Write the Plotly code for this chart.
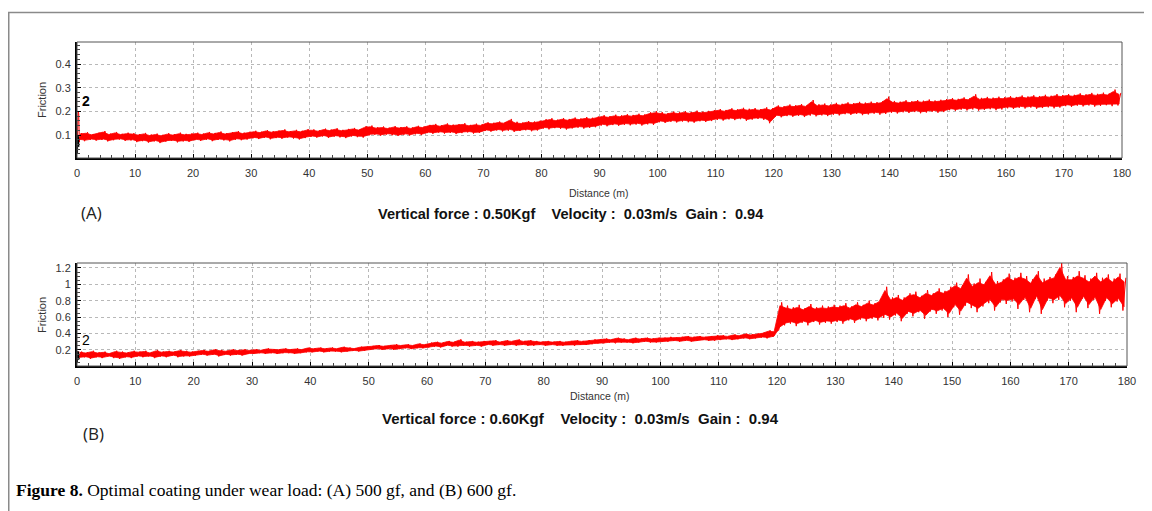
import plotly.graph_objects as go

# ---------------- data ----------------
# distance bins in metres (each bin i spans [i, i+1])
bins_m = list(range(180))

# Panel A (500 gf): per-metre lower / upper envelope of friction
a_low = [
    0.078, 0.074, 0.080, 0.076, 0.079, 0.073, 0.078, 0.081, 0.075, 0.077,
    0.070, 0.074, 0.068, 0.073, 0.066, 0.072, 0.075, 0.069, 0.073, 0.071,
    0.078, 0.075, 0.080, 0.074, 0.079, 0.077, 0.073, 0.080, 0.078, 0.081,
    0.086, 0.083, 0.088, 0.082, 0.087, 0.084, 0.089, 0.085, 0.081, 0.087,
    0.092, 0.089, 0.094, 0.088, 0.093, 0.090, 0.087, 0.094, 0.091, 0.089,
    0.098, 0.101, 0.097, 0.102, 0.099, 0.096, 0.101, 0.098, 0.103, 0.100,
    0.108, 0.105, 0.110, 0.106, 0.109, 0.104, 0.108, 0.111, 0.106, 0.109,
    0.117, 0.114, 0.119, 0.115, 0.118, 0.113, 0.117, 0.120, 0.116, 0.119,
    0.127, 0.124, 0.129, 0.126, 0.123, 0.128, 0.131, 0.127, 0.130, 0.133,
    0.140, 0.137, 0.142, 0.139, 0.143, 0.141, 0.144, 0.140, 0.145, 0.143,
    0.154, 0.151, 0.156, 0.153, 0.157, 0.154, 0.152, 0.158, 0.155, 0.159,
    0.164, 0.161, 0.166, 0.163, 0.167, 0.160, 0.165, 0.168, 0.164, 0.150,
    0.178, 0.175, 0.180, 0.177, 0.181, 0.176, 0.182, 0.179, 0.183, 0.180,
    0.186, 0.183, 0.188, 0.185, 0.189, 0.184, 0.187, 0.190, 0.186, 0.189,
    0.194, 0.191, 0.196, 0.193, 0.197, 0.192, 0.195, 0.198, 0.194, 0.197,
    0.205, 0.202, 0.207, 0.204, 0.208, 0.203, 0.206, 0.209, 0.205, 0.208,
    0.213, 0.210, 0.215, 0.212, 0.216, 0.211, 0.214, 0.217, 0.213, 0.216,
    0.222, 0.219, 0.224, 0.221, 0.225, 0.220, 0.223, 0.226, 0.222, 0.225,
]
a_high = [
    0.108, 0.112, 0.104, 0.110, 0.117, 0.106, 0.113, 0.105, 0.110, 0.108,
    0.104, 0.109, 0.102, 0.106, 0.101, 0.108, 0.103, 0.110, 0.105, 0.107,
    0.110, 0.106, 0.113, 0.109, 0.115, 0.108, 0.112, 0.117, 0.110, 0.114,
    0.118, 0.114, 0.121, 0.116, 0.119, 0.124, 0.117, 0.122, 0.118, 0.125,
    0.124, 0.120, 0.127, 0.123, 0.129, 0.122, 0.126, 0.130, 0.125, 0.138,
    0.140, 0.133, 0.136, 0.131, 0.138, 0.134, 0.137, 0.132, 0.139, 0.136,
    0.143, 0.147, 0.141, 0.149, 0.144, 0.146, 0.150, 0.143, 0.148, 0.145,
    0.154, 0.152, 0.157, 0.155, 0.168, 0.156, 0.153, 0.159, 0.157, 0.161,
    0.167, 0.171, 0.165, 0.172, 0.168, 0.174, 0.170, 0.176, 0.173, 0.178,
    0.184, 0.180, 0.186, 0.183, 0.188, 0.185, 0.190, 0.187, 0.196, 0.201,
    0.197, 0.193, 0.199, 0.196, 0.201, 0.197, 0.203, 0.199, 0.202, 0.205,
    0.210, 0.206, 0.213, 0.209, 0.215, 0.211, 0.214, 0.210, 0.217, 0.213,
    0.225, 0.222, 0.229, 0.226, 0.231, 0.227, 0.248, 0.230, 0.233, 0.229,
    0.236, 0.232, 0.238, 0.235, 0.240, 0.237, 0.241, 0.239, 0.243, 0.262,
    0.244, 0.241, 0.247, 0.243, 0.248, 0.245, 0.250, 0.246, 0.249, 0.252,
    0.256, 0.253, 0.259, 0.255, 0.272, 0.257, 0.261, 0.258, 0.262, 0.260,
    0.264, 0.261, 0.267, 0.263, 0.268, 0.265, 0.270, 0.266, 0.273, 0.269,
    0.273, 0.270, 0.276, 0.272, 0.278, 0.274, 0.279, 0.275, 0.292, 0.278,
]
# Panel A start-up transient (first metre)
a_start_x = [0.0, 0.1, 0.2, 0.3, 0.4, 0.5]
a_start_y = [0.03, 0.12, 0.20, 0.19, 0.07, 0.09]
a_black_x = [0.0, 0.06, 0.12, 0.18, 0.24]
a_black_y = [0.02, 0.10, 0.03, 0.09, 0.05]

# Panel B (600 gf)
b_low = [
    0.10, 0.11, 0.09, 0.11, 0.10, 0.12, 0.10, 0.09, 0.11, 0.10,
    0.12, 0.11, 0.12, 0.10, 0.12, 0.11, 0.13, 0.11, 0.12, 0.12,
    0.13, 0.14, 0.13, 0.14, 0.12, 0.14, 0.13, 0.14, 0.13, 0.15,
    0.15, 0.16, 0.15, 0.16, 0.15, 0.16, 0.16, 0.15, 0.16, 0.17,
    0.17, 0.18, 0.17, 0.18, 0.18, 0.17, 0.18, 0.19, 0.18, 0.19,
    0.20, 0.21, 0.20, 0.21, 0.20, 0.21, 0.22, 0.21, 0.22, 0.22,
    0.23, 0.24, 0.23, 0.25, 0.24, 0.24, 0.25, 0.24, 0.25, 0.24,
    0.26, 0.25, 0.26, 0.25, 0.26, 0.25, 0.26, 0.25, 0.25, 0.26,
    0.25, 0.26, 0.25, 0.25, 0.26, 0.25, 0.26, 0.26, 0.27, 0.28,
    0.28, 0.29, 0.28, 0.29, 0.29, 0.28, 0.29, 0.30, 0.29, 0.29,
    0.30, 0.30, 0.31, 0.30, 0.31, 0.30, 0.31, 0.32, 0.31, 0.31,
    0.32, 0.33, 0.32, 0.33, 0.34, 0.33, 0.34, 0.35, 0.34, 0.36,
    0.44, 0.50, 0.52, 0.49, 0.53, 0.50, 0.54, 0.51, 0.53, 0.52,
    0.54, 0.52, 0.56, 0.53, 0.57, 0.55, 0.58, 0.56, 0.59, 0.57,
    0.62, 0.55, 0.64, 0.61, 0.66, 0.58, 0.67, 0.64, 0.68, 0.60,
    0.72, 0.63, 0.74, 0.71, 0.66, 0.73, 0.77, 0.68, 0.78, 0.76,
    0.79, 0.70, 0.81, 0.66, 0.82, 0.64, 0.80, 0.77, 0.81, 0.72,
    0.80, 0.66, 0.82, 0.71, 0.81, 0.64, 0.80, 0.72, 0.79, 0.68,
]
b_high = [
    0.18, 0.17, 0.19, 0.17, 0.18, 0.16, 0.19, 0.18, 0.17, 0.19,
    0.18, 0.19, 0.17, 0.20, 0.18, 0.19, 0.18, 0.20, 0.19, 0.18,
    0.19, 0.20, 0.19, 0.21, 0.20, 0.19, 0.21, 0.20, 0.21, 0.20,
    0.21, 0.20, 0.22, 0.21, 0.21, 0.22, 0.21, 0.22, 0.21, 0.23,
    0.22, 0.23, 0.22, 0.23, 0.22, 0.24, 0.23, 0.22, 0.24, 0.24,
    0.25, 0.26, 0.25, 0.26, 0.27, 0.26, 0.27, 0.26, 0.28, 0.27,
    0.29, 0.30, 0.29, 0.31, 0.30, 0.33, 0.30, 0.31, 0.30, 0.31,
    0.31, 0.32, 0.30, 0.32, 0.31, 0.33, 0.31, 0.32, 0.31, 0.30,
    0.31, 0.30, 0.31, 0.30, 0.31, 0.32, 0.31, 0.32, 0.33, 0.33,
    0.34, 0.33, 0.35, 0.34, 0.33, 0.35, 0.34, 0.35, 0.34, 0.35,
    0.35, 0.36, 0.35, 0.36, 0.37, 0.36, 0.37, 0.36, 0.37, 0.38,
    0.38, 0.37, 0.39, 0.38, 0.40, 0.39, 0.40, 0.41, 0.44, 0.43,
    0.78, 0.74, 0.72, 0.75, 0.71, 0.76, 0.72, 0.74, 0.73, 0.75,
    0.74, 0.77, 0.73, 0.78, 0.75, 0.80, 0.77, 0.82, 0.97, 0.84,
    0.87, 0.84, 0.89, 0.91, 0.86, 0.93, 0.89, 0.95, 0.92, 0.97,
    1.02, 0.99, 1.12, 1.01, 1.07, 1.03, 1.15, 1.04, 1.06, 1.13,
    1.08, 1.14, 1.10, 1.06, 1.16, 1.07, 1.09, 1.12, 1.26, 1.10,
    1.09, 1.16, 1.11, 1.07, 1.14, 1.08, 1.12, 1.07, 1.13, 1.08,
]
b_start_x = [0.0, 0.1, 0.2, 0.3, 0.4, 0.5]
b_start_y = [0.08, 0.17, 0.10, 0.18, 0.11, 0.13]
b_black_x = [0.0, 0.06, 0.12, 0.18, 0.24]
b_black_y = [0.05, 0.18, 0.07, 0.17, 0.08]

x_ticks = [0, 10, 20, 30, 40, 50, 60, 70, 80, 90, 100, 110, 120, 130, 140, 150, 160, 170, 180]
a_yticks = [0.1, 0.2, 0.3, 0.4]
a_yticklabels = ["0.1", "0.2", "0.3", "0.4"]
b_yticks = [0.2, 0.4, 0.6, 0.8, 1.0, 1.2]
b_yticklabels = ["0.2", "0.4", "0.6", "0.8", "1", "1.2"]

# ---------------- layout helpers ----------------
W, H = 1152, 511
OFF = 8  # page body margin of the html page
def px(x):
    return (x - OFF) / W
def py(y):
    return 1 - (y - OFF) / H

RED = "#ff0000"
SANS = "Liberation Sans, Arial, sans-serif"
TICKFONT = dict(family=SANS, size=11, color="#333333")
CORE = 0.12  # share of each envelope drawn as needles rather than solid band

fig = go.Figure()

def add_panel(low, high, sx, sy, bx, by, xa, ya):
    # solid core of the noisy signal
    top = [h - CORE * (h - l) for l, h in zip(low, high)]
    bot = [l + CORE * (h - l) for l, h in zip(low, high)]
    fx = [i + 0.5 for i in bins_m] + [i + 0.5 for i in reversed(bins_m)]
    fy = top + list(reversed(bot))
    fig.add_trace(go.Scatter(x=fx, y=fy, fill="toself", fillcolor=RED, mode="lines",
                             line=dict(width=0.8, color=RED), xaxis=xa, yaxis=ya,
                             hoverinfo="skip", showlegend=False))
    # needles: zig-zag through the per-metre low/high readings
    zx, zy = [], []
    for i, lo, hi in zip(bins_m, low, high):
        zx += [i + 0.3, i + 0.8]
        zy += [lo, hi]
    fig.add_trace(go.Scatter(x=list(sx) + zx, y=list(sy) + zy, mode="lines",
                             line=dict(width=1, color=RED), xaxis=xa, yaxis=ya,
                             showlegend=False))
    fig.add_trace(go.Scatter(x=bx, y=by, mode="lines", line=dict(width=2, color="black"),
                             xaxis=xa, yaxis=ya, showlegend=False))

add_panel(a_low, a_high, a_start_x, a_start_y, a_black_x, a_black_y, "x", "y")
add_panel(b_low, b_high, b_start_x, b_start_y, b_black_x, b_black_y, "x2", "y2")

common_x = dict(
    range=[0, 180], tickvals=x_ticks, ticktext=[str(v) for v in x_ticks],
    showgrid=True, gridcolor="#b8b8b8", griddash="3px,3px", gridwidth=1,
    showline=True, linecolor="black", linewidth=2,
    ticks="inside", ticklen=4, tickcolor="black", tickwidth=1,
    minor=dict(dtick=2, ticks="inside", ticklen=3, tickcolor="#444", showgrid=False),
    tickfont=TICKFONT, ticklabelstandoff=4, zeroline=False, fixedrange=True,
    automargin=False,
)
common_y = dict(
    showgrid=True, gridcolor="#b8b8b8", griddash="3px,3px", gridwidth=1,
    showline=True, linecolor="black", linewidth=2,
    ticks="inside", ticklen=4, tickcolor="black", tickwidth=1,
    tickfont=TICKFONT, ticklabelstandoff=2, zeroline=False, fixedrange=True,
    automargin=False,
)

fig.update_layout(
    template="none",
    width=W, height=H, margin=dict(l=0, r=0, t=0, b=0, pad=0, autoexpand=False),
    paper_bgcolor="white", plot_bgcolor="white", showlegend=False,
    xaxis=dict(common_x, domain=[px(77), px(1122)], anchor="y"),
    yaxis=dict(common_y, domain=[py(158), py(42)], anchor="x", range=[0.003, 0.493],
               tickvals=a_yticks, ticktext=a_yticklabels,
               minor=dict(dtick=0.02, ticks="inside", ticklen=3, tickcolor="#444", showgrid=False)),
    xaxis2=dict(common_x, domain=[px(77), px(1127)], anchor="y2"),
    yaxis2=dict(common_y, domain=[py(366), py(263)], anchor="x2", range=[0.004, 1.26],
                tickvals=b_yticks, ticktext=b_yticklabels,
                minor=dict(dtick=0.05, ticks="inside", ticklen=3, tickcolor="#444", showgrid=False)),
)

shapes = []
# outer frame (left and top edges visible)
shapes.append(dict(type="line", xref="paper", yref="paper", x0=px(8.5), x1=px(8.5), y0=py(12), y1=py(530),
                   line=dict(color="#8a8a8a", width=2)))
shapes.append(dict(type="line", xref="paper", yref="paper", x0=px(8), x1=px(1170), y0=py(12.5), y1=py(12.5),
                   line=dict(color="#8a8a8a", width=1.5)))
# top/right plot borders
for xr, yr in (("x domain", "y domain"), ("x2 domain", "y2 domain")):
    shapes.append(dict(type="rect", xref=xr, yref=yr, x0=0, x1=1, y0=0, y1=1,
                       line=dict(color="#555555", width=1), layer="above"))
fig.update_layout(shapes=shapes)

NB = "\u00a0"
ann = []
def text(x, y, s, size, family=SANS, color="black", xanchor="center", textangle=0):
    ann.append(dict(xref="paper", yref="paper", x=px(x), y=py(y), text=s, showarrow=False,
                    xanchor=xanchor, yanchor="middle", textangle=textangle,
                    font=dict(family=family, size=size, color=color)))

text(42, 100, "Friction", 11, color="#333333", textangle=-90)
text(42, 315, "Friction", 11, color="#333333", textangle=-90)
text(599, 193, "Distance (m)", 10.5, color="#333333")
text(600, 396, "Distance (m)", 10.5, color="#333333")
text(376, 214, "<b>Vertical force : 0.50Kgf" + NB * 4 + "Velocity :" + NB * 2 + "0.03m/s" + NB * 2 +
     "Gain :" + NB * 2 + "0.94</b>", 14.6, color="#111111", xanchor="left")
text(380, 418, "<b>Vertical force : 0.60Kgf" + NB * 4 + "Velocity :" + NB * 2 + "0.03m/s" + NB * 2 +
     "Gain :" + NB * 2 + "0.94</b>", 15.0, color="#111111", xanchor="left")
text(79, 213, "(A)", 17, family="Open Sans, sans-serif", color="#222222", xanchor="left")
text(81, 433, "(B)", 17, family="Open Sans, sans-serif", color="#222222", xanchor="left")
text(80, 101, "<b>2</b>", 14, xanchor="left")
text(80, 340, "2", 14, xanchor="left")
text(14, 490, "<b>Figure 8.</b> Optimal coating under wear load: (A) 500 gf, and (B) 600 gf.", 17.5,
     family="Liberation Serif, Times New Roman, serif", xanchor="left")
fig.update_layout(annotations=ann)

fig.write_html("out.html")
